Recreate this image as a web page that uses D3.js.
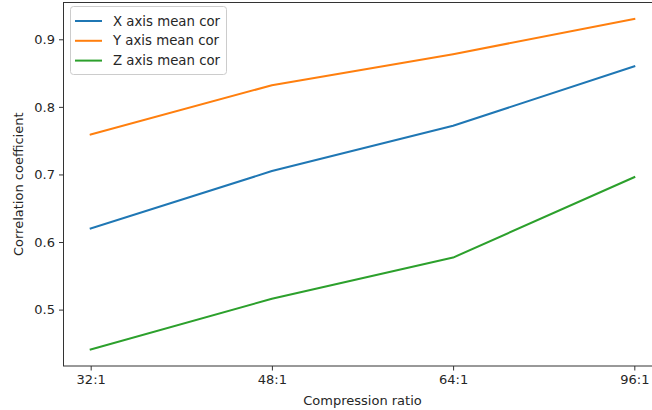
<!DOCTYPE html>
<html>
<head>
<meta charset="utf-8">
<script src="https://cdn.jsdelivr.net/npm/d3@7"></script>
<style>
  html, body { margin: 0; padding: 0; background: #fff; }
  svg { display: block; font-family: "DejaVu Sans", sans-serif; }
</style>
</head>
<body>
<svg id="chart" width="652" height="410"></svg>
<script>
// Compression ratios tested
const categories = ["32:1", "48:1", "64:1", "96:1"];
// Mean correlation per axis
const xMeanCor = [0.620, 0.705, 0.772, 0.860];
const yMeanCor = [0.759, 0.832, 0.878, 0.930];
const zMeanCor = [0.441, 0.516, 0.577, 0.696];
const yTicks = [0.5, 0.6, 0.7, 0.8, 0.9];

const series = [
  { name: "X axis mean cor", values: xMeanCor, color: "#1f77b4" },
  { name: "Y axis mean cor", values: yMeanCor, color: "#ff7f0e" },
  { name: "Z axis mean cor", values: zMeanCor, color: "#2ca02c" }
];

const svg = d3.select("#chart");
const plotLeft = 63.5, plotRight = 661.5, plotTop = 2.5, plotBottom = 366;
const fontSize = 13;

// Categorical x positions with 5% padding like matplotlib
const idx = d3.range(categories.length);
const x = d3.scaleLinear()
  .domain([-0.05 * (categories.length - 1), (categories.length - 1) * 1.05])
  .range([plotLeft, plotRight]);

const all = series.flatMap(s => s.values);
const lo = d3.min(all), hi = d3.max(all), pad = (hi - lo) * 0.05;
const y = d3.scaleLinear().domain([lo - pad, hi + pad]).range([plotBottom, plotTop]);

// Lines
const line = d3.line().x((d, i) => x(i)).y(d => y(d));
svg.append("g").selectAll("path").data(series).join("path")
  .attr("d", d => line(d.values))
  .attr("fill", "none")
  .attr("stroke", d => d.color)
  .attr("stroke-width", 2)
  .attr("stroke-linejoin", "round")
  .attr("stroke-linecap", "square");

// Axes
const xAxis = d3.axisBottom(x).tickValues(idx).tickFormat(i => categories[i])
  .tickSizeOuter(0).tickSizeInner(4.5).tickPadding(4);
const yAxis = d3.axisLeft(y).tickValues(yTicks).tickFormat(d3.format(".1f"))
  .tickSizeOuter(0).tickSizeInner(4.5).tickPadding(4);

const gx = svg.append("g").attr("transform", `translate(0,${plotBottom})`).call(xAxis);
const gy = svg.append("g").attr("transform", `translate(${plotLeft},0)`).call(yAxis);
[gx, gy].forEach(g => {
  g.select(".domain").remove();
  g.selectAll(".tick line").attr("stroke", "#333").attr("stroke-width", 1);
  g.selectAll(".tick text").attr("fill", "#262626").attr("font-size", fontSize)
    .attr("font-family", "DejaVu Sans, sans-serif");
});

// Frame
svg.append("rect")
  .attr("x", plotLeft).attr("y", plotTop)
  .attr("width", plotRight - plotLeft).attr("height", plotBottom - plotTop)
  .attr("fill", "none").attr("stroke", "#333").attr("stroke-width", 1);

// Axis titles
svg.append("text")
  .attr("x", (plotLeft + plotRight) / 2).attr("y", 405)
  .attr("text-anchor", "middle").attr("font-size", fontSize).attr("fill", "#262626")
  .text("Compression ratio");
svg.append("text")
  .attr("transform", `translate(23,${(plotTop + plotBottom) / 2}) rotate(-90)`)
  .attr("text-anchor", "middle").attr("font-size", fontSize).attr("fill", "#262626")
  .text("Correlation coefficient");

// Legend
const lg = svg.append("g");
lg.append("rect")
  .attr("x", 70.5).attr("y", 6.5).attr("width", 156).attr("height", 68)
  .attr("rx", 3).attr("fill", "#fff").attr("fill-opacity", 0.8)
  .attr("stroke", "#ccc").attr("stroke-width", 1);
const item = lg.selectAll("g.item").data(series).join("g")
  .attr("class", "item")
  .attr("transform", (d, i) => `translate(0,${21 + i * 19.8})`);
item.append("line")
  .attr("x1", 75).attr("x2", 102).attr("y1", 0).attr("y2", 0)
  .attr("stroke", d => d.color).attr("stroke-width", 2);
item.append("text")
  .attr("x", 113).attr("y", 0).attr("dy", "0.35em")
  .attr("font-size", 13.3).attr("fill", "#262626")
  .text(d => d.name);
</script>
</body>
</html>
